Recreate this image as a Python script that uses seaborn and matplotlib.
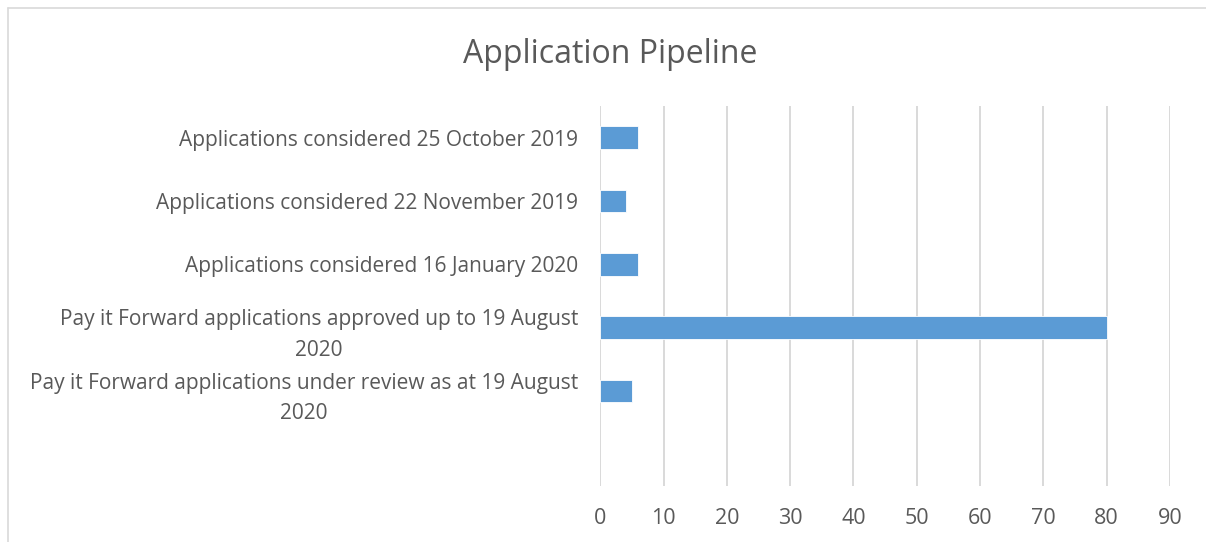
import matplotlib
matplotlib.use("Agg")
import matplotlib.pyplot as plt
import seaborn as sns
import pandas as pd

# Values
categories = [
    "Applications considered 25 October 2019",
    "Applications considered 22 November 2019",
    "Applications considered 16 January 2020",
    "Pay it Forward applications approved up to 19 August\n2020",
    "Pay it Forward applications under review as at 19 August\n2020",
]
counts = [6, 4, 6, 80, 5]
x_ticks = [0, 10, 20, 30, 40, 50, 60, 70, 80, 90]

sns.set_theme(style="white")
plt.rcParams["font.family"] = ["Open Sans", "DejaVu Sans"]

text_grey = "#595959"
grid_grey = "#d9d9d9"
bar_blue = "#5b9bd5"

df = pd.DataFrame({"category": categories, "count": counts})

fig = plt.figure(figsize=(12.06, 5.42), dpi=100)
ax = fig.add_axes([0.4978, 0.1033, 0.4723, 0.7011])

sns.barplot(data=df, x="count", y="category", orient="h", color=bar_blue,
            width=0.357, edgecolor="white", linewidth=0.6, saturation=1, ax=ax)

# Excel leaves an empty slot below the last category
ax.set_ylim(5.5, -0.5)
ax.set_xlim(0, 90)
ax.set_xticks(x_ticks)
ax.set_xlabel("")
ax.set_ylabel("")

for side in ["top", "right", "bottom", "left"]:
    ax.spines[side].set_visible(False)

ax.xaxis.grid(True, color=grid_grey, linewidth=1.4)
ax.set_axisbelow(True)
ax.tick_params(axis="x", length=0, pad=16, labelsize=15.5, labelcolor=text_grey)
ax.tick_params(axis="y", length=0, pad=16, labelsize=15, labelcolor=text_grey)
for lbl in ax.get_yticklabels():
    lbl.set_multialignment("center")
    lbl.set_linespacing(1.6)

fig.text(0.506, 0.899, "Application Pipeline", ha="center", va="center",
         fontsize=23, color=text_grey)

# chart frame (only top and left edges are visible in the crop)
fig.add_artist(plt.Line2D([0.0066, 0.0066], [0, 0.986], transform=fig.transFigure,
                          color=grid_grey, linewidth=1.2))
fig.add_artist(plt.Line2D([0.0066, 1.0], [0.986, 0.986], transform=fig.transFigure,
                          color=grid_grey, linewidth=1.2))

fig.savefig("out.png", dpi=100)
